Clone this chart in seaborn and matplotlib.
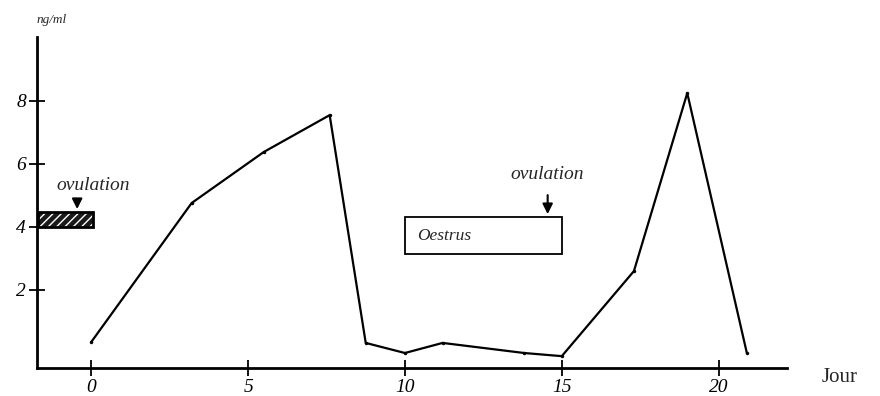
import matplotlib
matplotlib.use("Agg")
import matplotlib.pyplot as plt
import seaborn as sns
import pandas as pd
from matplotlib.patches import Rectangle

# Data
jour = [0, 3.2, 5.5, 7.6, 8.75, 10, 11.2, 13.8, 15, 17.3, 19.0, 20.9]
ng_ml = [0.35, 4.76, 6.38, 7.55, 0.32, 0.0, 0.32, 0.0, -0.1, 2.6, 8.25, 0.0]
x_ticks = [0, 5, 10, 15, 20]
y_ticks = [2, 4, 6, 8]
y_label = "ng/ml"
x_label = "Jour"
oestrus_label = "Oestrus"
ovulation_label = "ovulation"

df = pd.DataFrame({"jour": jour, "ng_ml": ng_ml})

sns.set_style("ticks")
plt.rcParams["font.family"] = ["Liberation Serif", "DejaVu Serif"]

fig = plt.figure(figsize=(8.8, 3.96), dpi=100)
ax = fig.add_axes([37 / 880, 1 - 368 / 396, (787 - 37) / 880, (368 - 37) / 396])

sns.lineplot(data=df, x="jour", y="ng_ml", ax=ax, color="black", lw=1.6,
             marker="o", markersize=2.5, markeredgewidth=0, sort=False)

ax.set_xlim(-1.73, 22.18)
ax.set_ylim(-0.476, 10.03)
ax.set_xticks(x_ticks)
ax.set_yticks(y_ticks)
ax.set_xticklabels([str(t) for t in x_ticks], fontstyle="italic", fontsize=14)
ax.set_yticklabels([str(t) for t in y_ticks], fontstyle="italic", fontsize=14)
ax.tick_params(axis="both", direction="inout", length=12, width=1.3, colors="black")
ax.tick_params(axis="x", pad=2)
ax.tick_params(axis="y", pad=2)
ax.set_xlabel("")
ax.set_ylabel("")
sns.despine(ax=ax)
for s in ["left", "bottom"]:
    ax.spines[s].set_linewidth(2)
    ax.spines[s].set_color("black")

# Left hatched ovulation box (dark fill with light hatching)
ax.add_patch(Rectangle((-1.7, 4.0), 1.75, 0.48, facecolor="#1a1a1a", edgecolor="white",
                       hatch="////", lw=0, clip_on=False))
ax.add_patch(Rectangle((-1.7, 4.0), 1.75, 0.48, facecolor="none", edgecolor="black",
                       lw=2.0, clip_on=False))
ax.annotate("", xy=(-0.45, 4.48), xytext=(-0.45, 4.9),
            arrowprops=dict(arrowstyle="-|>", color="black", lw=1.5, mutation_scale=15))
ax.text(-1.1, 5.33, ovulation_label, fontstyle="italic", fontsize=14,
        ha="left", va="center")

# Oestrus box
ax.add_patch(Rectangle((10.0, 3.14), 5.0, 1.18, facecolor="white", edgecolor="black", lw=1.3))
ax.text(10.4, 3.72, oestrus_label, fontstyle="italic", fontsize=12.5, ha="left", va="center")
ax.annotate("", xy=(14.55, 4.32), xytext=(14.55, 5.1),
            arrowprops=dict(arrowstyle="-|>", color="black", lw=1.5, mutation_scale=15))
ax.text(14.55, 5.68, ovulation_label, fontstyle="italic", fontsize=14,
        ha="center", va="center")

fig.text(37 / 880, 1 - 20 / 396, y_label, fontstyle="italic", fontsize=9.5,
         ha="left", va="center")
fig.text(822 / 880, 1 - 378 / 396, x_label, fontsize=15, ha="left", va="center")

fig.savefig("out.png", dpi=100)
